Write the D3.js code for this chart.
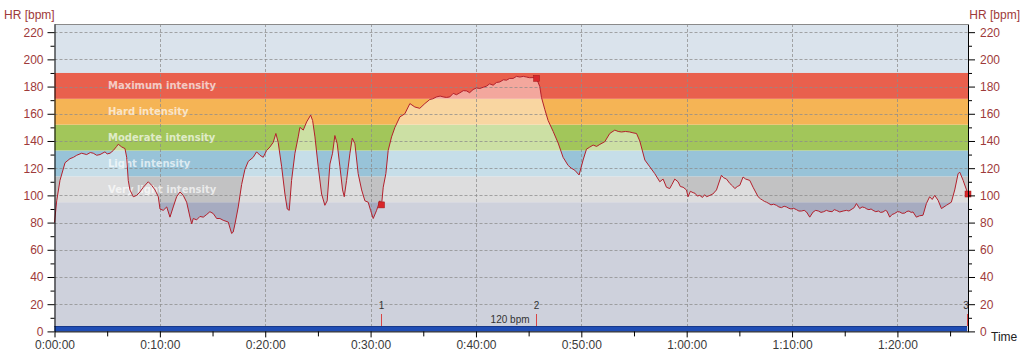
<!DOCTYPE html>
<html><head><meta charset="utf-8">
<script src="https://cdn.jsdelivr.net/npm/d3@7"></script>
<style>body{margin:0;background:#fff} svg{display:block}</style>
</head><body><svg id="c" width="1024" height="355"></svg>
<script>
// ---- data ----
const minutes = [0,0.21,0.52,1.0,1.47,1.8,2.11,2.58,3.05,3.4,3.68,4.0,4.32,4.79,5.0,5.27,5.58,5.9,6.05,6.38,6.69,6.85,7.0,7.16,7.48,7.8,8.11,8.43,8.9,9.22,9.54,9.85,10.01,10.32,10.65,10.96,11.27,11.59,11.91,12.22,12.54,12.86,13.02,13.17,13.49,13.8,14.12,14.45,14.75,15.07,15.39,15.7,16.01,16.49,16.81,16.96,17.13,17.44,17.76,18.07,18.39,18.86,19.18,19.5,19.81,20.13,20.45,20.76,21.01,21.23,21.56,21.87,22.09,22.28,22.5,22.82,23.13,23.29,23.61,23.93,24.31,24.5,24.72,25.03,25.35,25.66,25.88,26.14,26.39,26.61,26.83,27.09,27.34,27.5,27.72,28.04,28.26,28.51,28.82,29.15,29.46,29.77,30.0,30.25,30.57,30.88,31.04,31.2,31.45,31.67,31.99,32.31,32.78,33.25,33.73,34.2,34.67,35.15,35.62,35.9,36.26,36.6,36.89,37.2,37.52,37.84,38.15,38.47,38.8,39.11,39.4,39.73,40.05,40.37,40.7,41.0,41.3,41.63,41.95,42.27,42.6,42.9,43.2,43.53,43.85,44.17,44.5,44.8,45.1,45.43,45.75,46.06,46.22,46.54,46.85,47.33,47.8,48.27,48.75,49.05,49.38,49.79,50.17,50.49,50.8,51.12,51.45,51.76,52.23,52.7,53.18,53.5,53.81,54.2,54.6,54.9,55.24,55.55,56.03,56.5,56.97,57.45,57.76,58.08,58.39,58.6,58.87,59.18,59.4,59.66,59.98,60.13,60.35,60.61,60.8,61.0,61.24,61.5,61.7,61.88,62.2,62.48,62.83,63.3,63.5,63.78,64.1,64.35,64.57,64.8,65.04,65.35,65.6,65.99,66.3,66.78,67.0,67.2,67.4,67.57,67.8,68.0,68.25,68.52,68.75,69.0,69.25,69.47,69.7,69.9,70.15,70.42,70.65,70.9,71.15,71.37,71.68,72.0,72.25,72.5,72.75,73.0,73.26,73.5,73.8,74.0,74.2,74.53,74.85,75.16,75.4,75.7,75.9,76.11,76.42,76.65,76.9,77.1,77.3,77.5,77.69,77.95,78.2,78.4,78.64,78.85,79.0,79.27,79.5,79.7,80.0,80.22,80.45,80.7,80.9,81.1,81.3,81.48,81.8,82.1,82.43,82.75,83.06,83.3,83.54,83.86,84.18,84.65,85.12,85.44,85.76,85.92,86.24,86.56,86.7];
const heartRate = [80,96,111,124,127,128,129.5,131,130,131.5,131,129.5,130,132,130.5,131,133,136,137.6,135.6,134.4,128,111,104,99,100,102.5,106,110,107.4,104,99,90,89,91.5,84,91.5,99,102.5,100,95,84,79,83,82,84.5,84,86,88,86.6,83,83,81.7,80.4,72,73,79,91.5,108,119,125,128,132,129.5,128,133,135.6,139,145.5,139,121,101,90,89,111,131,143,150,148,154,159,155,143,121,101,92.7,96,123,131,144,138,121,104,99,111,131,142,138,116,104,96,95,89,83,89,96,93,106,116,133,143,150,157.7,160,167.5,165,164,167.5,170.5,171,172.4,173,172.4,172,172.4,175,174,175.4,177,176.8,175.5,177.8,179,178.6,179.5,180.3,182,181,183,183.4,185,184.7,186,186,187.5,187,187.5,187,186.5,186.6,186,180,172,163,155,147,138.5,128,122,120,118.5,115,126,134,135.5,137,136,137.5,139.5,145.5,148,147,146.6,147,146.6,146,145.5,140,126,121,116,110,112,106,105,108,112,110,106.5,106,104,99,103,102,101.5,99.5,100,98.5,100.5,99,100,101,104,114.8,113,112,108.7,107,105,106.5,107.4,113.5,112,111,106,99,97.5,96.5,95.5,95,94,93,93.5,92.7,91.5,91,92,91.5,90.5,90,90.5,89.5,88.5,88.5,89,87.8,84,87.8,89,88.5,87.5,88,89,88.3,88,89.5,89,87.8,88.5,89,88.5,90,91,94,90.3,91.5,91,90,89.5,90,89,88,88.5,87.5,87.8,89,88.5,84,86,86.5,88,87.8,86.8,87,88.2,88.5,87.5,87.8,84,85,85.4,94,99,97,100,96.4,90.3,92.7,95,104,116,117,111,104,101];
const zoneNames = ["Very light intensity","Light intensity","Moderate intensity","Hard intensity","Maximum intensity"];
const zoneLow = [95,114,133,152,171];
const zoneHigh = [114,133,152,171,190];
const zoneColors = ["#c2c2c3","#98c3d8","#a2c65a","#f5b455","#e9604d"];
const yTickValues = [0,20,40,60,80,100,120,140,160,180,200,220];
const xTickMinutes = [0,10,20,30,40,50,60,70,80];
const xTickLabels = ["0:00:00","0:10:00","0:20:00","0:30:00","0:40:00","0:50:00","1:00:00","1:10:00","1:20:00"];
const lapLabels = ["1","2","3"];
const lapMinutes = [31.04,45.75,86.7];
const lapHR = [93,186,101];
const lapNote = "120 bpm";
const totalMinutes = 86.7;

// ---- layout ----
const svg = d3.select("#c");
const L = 54.5, R = 968, T = 24, B = 331.4;
const x = d3.scaleLinear().domain([0,totalMinutes]).range([L,R]);
const y = d3.scaleLinear().domain([0,226]).range([B,T]);
const font = "'Liberation Sans', Arial, sans-serif";

// background regions
svg.append("rect").attr("x",L).attr("width",R-L).attr("y",y(95)).attr("height",y(0)-y(95)).attr("fill","#a6abc0");
svg.append("rect").attr("x",L).attr("width",R-L).attr("y",T).attr("height",y(190)-T).attr("fill","#dae3ec");
svg.selectAll("rect.zone").data(zoneNames).enter().append("rect").attr("class","zone")
  .attr("x",L).attr("width",R-L)
  .attr("y",(d,i)=>y(zoneHigh[i])).attr("height",(d,i)=>y(zoneLow[i])-y(zoneHigh[i]))
  .attr("fill",(d,i)=>zoneColors[i]);

const pts = minutes.map((m,i)=>[m,heartRate[i]]);
// area under curve (lightening)
svg.append("path").datum(pts)
  .attr("d", d3.area().x(d=>x(d[0])).y0(y(0)).y1(d=>y(d[1])))
  .attr("fill","#fff").attr("fill-opacity",0.45);

// grid
const g = svg.append("g").attr("stroke","#8c8c8c").attr("stroke-dasharray","3,2").attr("stroke-width",1).attr("stroke-opacity",0.75);
g.selectAll("line.h").data(yTickValues.filter(v=>v>0)).enter().append("line")
  .attr("x1",L).attr("x2",R).attr("y1",d=>Math.round(y(d))+0.5).attr("y2",d=>Math.round(y(d))+0.5);
g.selectAll("line.v").data(xTickMinutes.filter(v=>v>0)).enter().append("line")
  .attr("y1",T).attr("y2",B).attr("x1",d=>Math.round(x(d))+0.5).attr("x2",d=>Math.round(x(d))+0.5);

// zone labels
svg.selectAll("text.zl").data(zoneNames).enter().append("text")
  .attr("x",108).attr("y",(d,i)=>y((zoneLow[i]+zoneHigh[i])/2)+3.5)
  .attr("font-family","'DejaVu Sans', Verdana, sans-serif").attr("font-weight","bold").attr("font-size",10)
  .attr("fill","#fff").attr("fill-opacity",0.68).text(d=>d);

// blue bar
svg.append("rect").attr("x",L).attr("width",R-L-1).attr("y",326).attr("height",B-326).attr("fill","#1f4db5");
svg.append("line").attr("x1",L).attr("x2",R-1).attr("y1",326.5).attr("y2",326.5).attr("stroke","#17388a");

// HR line
svg.append("path").datum(pts)
  .attr("d", d3.line().x(d=>x(d[0])).y(d=>y(d[1])))
  .attr("fill","none").attr("stroke","#b3202c").attr("stroke-width",1);

// laps
lapMinutes.forEach((m,i)=>{
  const lx = Math.round(x(m))-0.5;
  svg.append("line").attr("x1",lx).attr("x2",lx).attr("y1",314).attr("y2",326).attr("stroke","#d84545");
  svg.append("text").attr("x",Math.min(lx, R-2)).attr("y",309).attr("text-anchor","middle")
    .attr("font-family",font).attr("font-size",10).attr("fill","#333").text(lapLabels[i]);
  svg.append("rect").attr("x",x(m)-3).attr("y",y(lapHR[i])-3).attr("width",6).attr("height",6)
    .attr("fill","#d9262a").attr("stroke","#a01818").attr("stroke-width",0.5);
});
svg.append("text").attr("x",x(lapMinutes[1])-7).attr("y",323).attr("text-anchor","end")
  .attr("font-family",font).attr("font-size",10).attr("fill","#333").text(lapNote);

// top border
svg.append("line").attr("x1",L).attr("x2",R).attr("y1",T+0.5).attr("y2",T+0.5).attr("stroke","#8a8a8a");

// axes
function styleAxis(sel, color){
  sel.selectAll("text").attr("font-family",font).attr("font-size",12).attr("fill",color);
  sel.selectAll("line").attr("stroke","#000");
  sel.select(".domain").attr("stroke","#000");
}
const yMinor = d3.range(10,226,20);
const lAxis = svg.append("g").attr("transform",`translate(${L},0)`)
  .call(d3.axisLeft(y).tickValues(yTickValues).tickSize(7).tickPadding(4).tickSizeOuter(0));
styleAxis(lAxis,"#9e3a3a");
svg.append("g").attr("transform",`translate(${L},0)`)
  .call(d3.axisLeft(y).tickValues(yMinor).tickSize(4).tickFormat("").tickSizeOuter(0))
  .call(s=>{s.select(".domain").remove(); s.selectAll("line").attr("stroke","#000");});
const rAxis = svg.append("g").attr("transform",`translate(${R},0)`)
  .call(d3.axisRight(y).tickValues(yTickValues).tickSize(7).tickPadding(5).tickSizeOuter(0));
styleAxis(rAxis,"#9e3a3a");
svg.append("g").attr("transform",`translate(${R},0)`)
  .call(d3.axisRight(y).tickValues(yMinor).tickSize(4).tickFormat("").tickSizeOuter(0))
  .call(s=>{s.select(".domain").remove(); s.selectAll("line").attr("stroke","#000");});
const bAxis = svg.append("g").attr("transform",`translate(0,${B})`)
  .call(d3.axisBottom(x).tickValues(xTickMinutes).tickFormat((d,i)=>xTickLabels[i]).tickSize(6).tickPadding(3).tickSizeOuter(0));
styleAxis(bAxis,"#3a3a3a");
svg.append("g").attr("transform",`translate(0,${B})`)
  .call(d3.axisBottom(x).tickValues(xTickMinutes.map(v=>v+5)).tickSize(5).tickFormat("").tickSizeOuter(0))
  .call(s=>{s.select(".domain").remove(); s.selectAll("line").attr("stroke","#000");});

// titles
svg.append("text").attr("x",4).attr("y",19).attr("font-family",font).attr("font-size",12).attr("fill","#9e3a3a").text("HR [bpm]");
svg.append("text").attr("x",1020).attr("y",19).attr("text-anchor","end").attr("font-family",font).attr("font-size",12).attr("fill","#9e3a3a").text("HR [bpm]");
svg.append("text").attr("x",991).attr("y",341).attr("font-family",font).attr("font-size",12).attr("fill","#222").text("Time");
</script></body></html>
